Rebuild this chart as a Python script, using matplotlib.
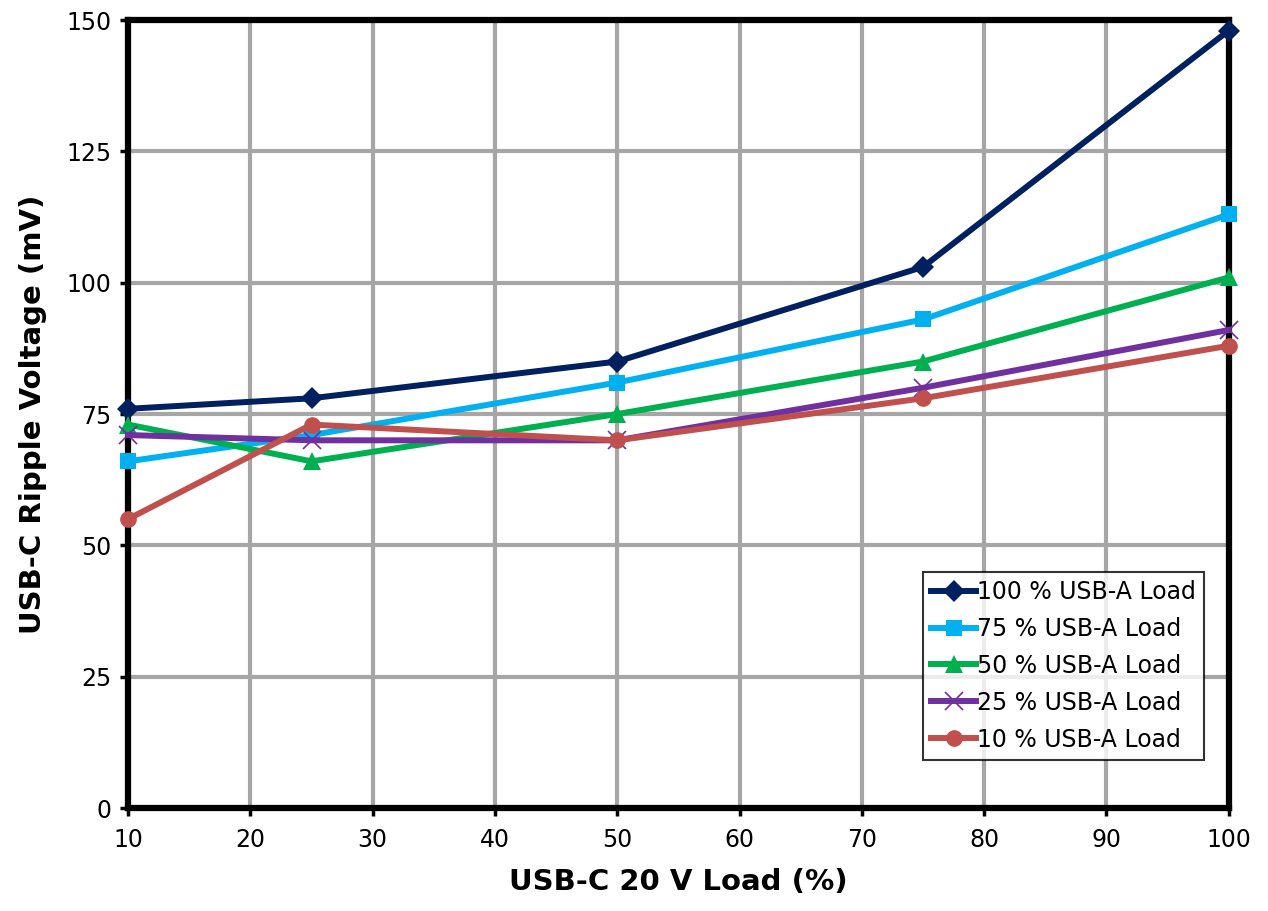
import matplotlib
matplotlib.use("Agg")
import matplotlib.pyplot as plt

x_load = [10, 25, 50, 75, 100]
s100 = [76, 78, 85, 103, 148]
s75 = [66, 71, 81, 93, 113]
s50 = [73, 66, 75, 85, 101]
s25 = [71, 70, 70, 80, 91]
s10 = [55, 73, 70, 78, 88]

series = [
    ("100 % USB-A Load", s100, "#002060", "D", 11),
    ("75 % USB-A Load", s75, "#00B0F0", "s", 12),
    ("50 % USB-A Load", s50, "#00B050", "^", 13),
    ("25 % USB-A Load", s25, "#7030A0", "x", 13),
    ("10 % USB-A Load", s10, "#C0504D", "o", 12),
]

plt.rcParams["font.family"] = "DejaVu Sans"

fig = plt.figure(figsize=(12.68, 9.11), dpi=100)
ax = fig.add_axes([0.101, 0.113, 0.868, 0.865])

for nome, vals, col, mk, ms in series:
    ax.plot(x_load, vals, color=col, lw=4.3, marker=mk, markersize=ms,
            markeredgewidth=1.2 if mk == "x" else 0, label=nome,
            clip_on=False, zorder=3)

ax.set_xlim(10, 100)
ax.set_ylim(0, 150)
ax.set_xticks(range(10, 101, 10))
ax.set_yticks(range(0, 151, 25))
ax.grid(True, color="#A6A6A6", lw=3)
ax.set_axisbelow(True)
for sp in ax.spines.values():
    sp.set_linewidth(4.5)
    sp.set_color("black")
ax.tick_params(labelsize=17, width=2.5, length=6, direction="out")
ax.tick_params(axis="y", pad=6)
ax.tick_params(axis="x", pad=8)
ax.set_xlabel("USB-C 20 V Load (%)", fontsize=21, fontweight="bold", labelpad=12)
ax.set_ylabel("USB-C Ripple Voltage (mV)", fontsize=21, fontweight="bold", labelpad=14)

leg = ax.legend(loc="lower right", bbox_to_anchor=(0.978, 0.061), borderaxespad=0,
                fontsize=17, frameon=True, fancybox=False, edgecolor="black",
                handlelength=1.9, handletextpad=0.05, borderpad=0.35,
                labelspacing=0.55)
leg.get_frame().set_linewidth(1.5)

fig.savefig("out.png", dpi=100)
